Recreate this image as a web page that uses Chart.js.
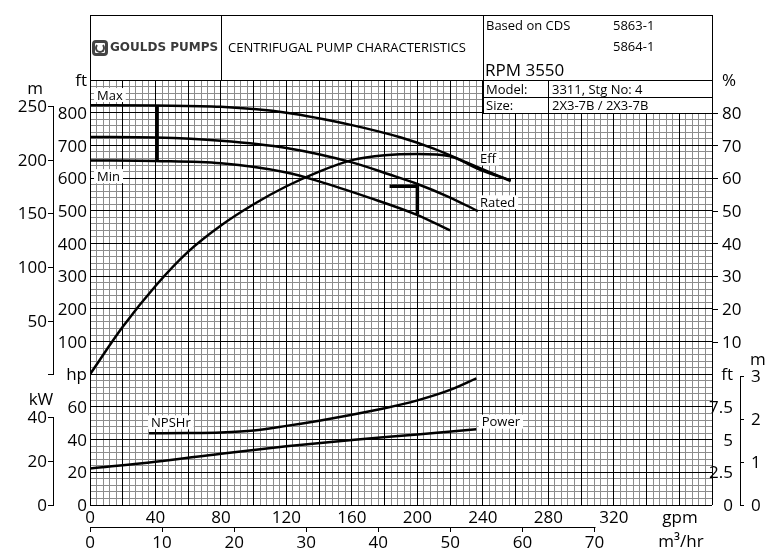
<!DOCTYPE html>
<html>
<head>
<meta charset="utf-8">
<script src="https://cdn.jsdelivr.net/npm/chart.js@4/dist/chart.umd.min.js"></script>
<style>
  html, body { margin: 0; padding: 0; background: #fff; }
  #wrap { position: relative; width: 776px; height: 557px; font-family: 'Open Sans', sans-serif; color: #000; overflow: hidden; }
  canvas { position: absolute; left: 0; top: 0; }
  .ln { position: absolute; background: #000; }
  .t { position: absolute; white-space: nowrap; line-height: 1; transform: translateY(-50%); }
  .box { position: absolute; box-sizing: border-box; background: #fff; border: 1px solid #000; }
  .logo { position: absolute; left: 92px; top: 40px; width: 16px; height: 16px; box-sizing: border-box; border: 3px solid #444; border-radius: 4px; filter: blur(0.4px); }
  .logo::after { content: ''; position: absolute; left: 0; top: 0; width: 6px; height: 6px; border: 2px solid #444; border-radius: 50%; border-top-color: transparent; }
</style>
</head>
<body>
<div id="wrap">
  <canvas id="pumpChart" width="776" height="557"></canvas>

  <!-- header frame -->
  <div class="ln" style="left:90px;top:15px;width:623px;height:1px"></div>
  <div class="ln" style="left:90px;top:15px;width:1px;height:65px"></div>
  <div class="ln" style="left:712px;top:15px;width:1px;height:65px"></div>
  <div class="ln" style="left:221px;top:15px;width:1px;height:65px"></div>
  <div class="ln" style="left:483px;top:15px;width:1px;height:65px"></div>

  <div class="logo"></div>
  <div class="t" style="left:110px;top:47px;font-family:'DejaVu Sans';font-weight:bold;font-size:12px;color:#3a3a3a;filter:blur(0.3px)">GOULDS PUMPS</div>
  <div class="t" style="left:228px;top:47px;font-size:13px">CENTRIFUGAL PUMP CHARACTERISTICS</div>

  <div class="t" style="left:486px;top:25px;font-size:13px">Based on CDS</div>
  <div class="t" style="left:613px;top:25px;font-size:13px">5863-1</div>
  <div class="t" style="left:613px;top:46px;font-size:13px">5864-1</div>
  <div class="t" style="left:485px;top:69px;font-size:17px">RPM 3550</div>

  <!-- model / size table -->
  <div class="box" style="left:483px;top:80px;width:230px;height:34px"></div>
  <div class="ln" style="left:483px;top:97px;width:230px;height:1px"></div>
  <div class="ln" style="left:548px;top:80px;width:1px;height:34px"></div>
  <div class="t" style="left:486px;top:89px;font-size:13px">Model:</div>
  <div class="t" style="left:552px;top:89px;font-size:13px">3311, Stg No: 4</div>
  <div class="t" style="left:486px;top:105px;font-size:13px">Size:</div>
  <div class="t" style="left:552px;top:105px;font-size:13px">2X3-7B / 2X3-7B</div>
</div>

<script>
const FT_PER_M = 3.2808;
const HP_PER_KW = 1.341;
const GPM_PER_M3H = 4.4029;

const gpmTicks = [0, 40, 80, 120, 160, 200, 240, 280, 320];
const m3hTicks = [0, 10, 20, 30, 40, 50, 60, 70];
const headFtTicks = [100, 200, 300, 400, 500, 600, 700, 800];
const headMTicks = [0, 50, 100, 150, 200, 250];
const effTicks = [10, 20, 30, 40, 50, 60, 70, 80];
const hpTicks = [0, 20, 40, 60];
const kwTicks = [0, 20, 40];
const npshFtTicks = [0, 2.5, 5, 7.5];
const npshMTicks = [0, 1, 2, 3];

// curves as [gpm, value]
const headMax = [[0, 823], [40, 822], [80, 818], [120, 800], [160, 762], [190, 724], [210, 690], [230, 648], [257, 591]];
const headRated = [[0, 726], [40, 724], [80, 714], [120, 692], [160, 648], [183, 611], [200, 582], [218, 545], [237, 499]];
const headMin = [[0, 654], [40, 652], [80, 645], [120, 617], [140, 590], [170, 541], [199, 489], [220, 440]];
const efficiency = [[0, 0], [20, 14.5], [40, 27], [60, 37.5], [80, 45.5], [100, 52], [120, 57.5], [140, 62], [160, 65.5], [180, 67], [200, 67.4], [220, 66.7], [238, 62.6], [257, 59.3]];
const npshr = [[36, 5.48], [60, 5.5], [80, 5.55], [100, 5.7], [120, 6.05], [140, 6.45], [160, 6.9], [180, 7.4], [200, 8.0], [220, 8.8], [236, 9.68]];
const power = [[0, 22.4], [40, 26.5], [80, 31.4], [120, 35.9], [160, 39.8], [200, 43.1], [236, 46.3]];
const diameterBar = [[41, 823], [41, 654]];
const ratedPoint = [[183, 575], [200, 575], [200, 489]];

const pts = arr => arr.map(p => ({ x: p[0], y: p[1] }));

function curve(arr, axis) {
    return {
        data: pts(arr), yAxisID: axis, borderColor: '#000', borderWidth: 2.5,
        pointRadius: 0, fill: false, cubicInterpolationMode: 'monotone'
    };
}
function marker(arr) {
    return {
        data: pts(arr), yAxisID: 'yFt', borderColor: '#000', borderWidth: 3.5,
        pointRadius: 0, fill: false, tension: 0, borderCapStyle: 'butt', borderJoinStyle: 'miter'
    };
}

const curveLabels = [
    { text: 'Max', axis: 'yFt', x: 4.3, y: 854 },
    { text: 'Min', axis: 'yFt', x: 4.3, y: 606 },
    { text: 'Eff', axis: 'yPct', x: 238.3, y: 66 },
    { text: 'Rated', axis: 'yFt', x: 238.3, y: 526 },
    { text: 'NPSHr', axis: 'yNpsh', x: 37.3, y: 6.32 },
    { text: 'Power', axis: 'yHp', x: 239.3, y: 51 }
];

function txt(ctx, str, px, py, align, size) {
    ctx.font = size + 'px "Open Sans"';
    ctx.textAlign = align;
    ctx.textBaseline = 'alphabetic';
    ctx.fillText(str, px, py + size * 0.36);
}
function hline(ctx, x1, x2, y) {
    ctx.beginPath(); ctx.moveTo(x1, Math.round(y) + 0.5); ctx.lineTo(x2, Math.round(y) + 0.5); ctx.stroke();
}
function vline(ctx, x, y1, y2) {
    ctx.beginPath(); ctx.moveTo(Math.round(x) + 0.5, y1); ctx.lineTo(Math.round(x) + 0.5, y2); ctx.stroke();
}

const axisText = {
    id: 'axisText',
    beforeDatasetsDraw(chart) {
        const ctx = chart.ctx;
        ctx.save();
        ctx.font = '13px "Open Sans"';
        curveLabels.forEach(l => {
            const px = chart.scales.x.getPixelForValue(l.x);
            const py = chart.scales[l.axis].getPixelForValue(l.y);
            const w = ctx.measureText(l.text).width;
            ctx.fillStyle = '#fff';
            ctx.fillRect(px - 3, py - 7, w + 6, 14);
            ctx.fillStyle = '#000';
            txt(ctx, l.text, px, py, 'left', 13);
        });
        ctx.restore();
    },
    afterDraw(chart) {
        const ctx = chart.ctx;
        const { x, yFt, yPct, yHp, yNpsh } = chart.scales;
        const area = chart.chartArea;
        ctx.save();
        ctx.fillStyle = '#000';
        ctx.strokeStyle = '#000';
        ctx.lineWidth = 1;

        // left: head ft and power hp
        headFtTicks.forEach(v => txt(ctx, String(v), 87, yFt.getPixelForValue(v), 'right', 17));
        txt(ctx, 'ft', 87, area.top, 'right', 17);
        hpTicks.forEach(v => txt(ctx, String(v), 87, yHp.getPixelForValue(v), 'right', 17));
        txt(ctx, 'hp', 87, yFt.getPixelForValue(0), 'right', 17);

        // left: head m axis
        const mTop = yFt.getPixelForValue(250 * FT_PER_M);
        vline(ctx, 53, mTop, yFt.getPixelForValue(0));
        headMTicks.forEach(v => {
            const py = yFt.getPixelForValue(v * FT_PER_M);
            hline(ctx, 48, 54, py);
            if (v > 0) txt(ctx, String(v), 47, py, 'right', 17);
        });
        txt(ctx, 'm', 35, 88, 'center', 17);

        // left: kW axis
        vline(ctx, 53, yHp.getPixelForValue(40 * HP_PER_KW), yHp.getPixelForValue(0));
        kwTicks.forEach(v => {
            const py = yHp.getPixelForValue(v * HP_PER_KW);
            hline(ctx, 48, 54, py);
            txt(ctx, String(v), 47, py, 'right', 17);
        });
        txt(ctx, 'kW', 41, 399, 'center', 17);

        // right: efficiency %
        effTicks.forEach(v => {
            const py = yPct.getPixelForValue(v);
            hline(ctx, area.right, area.right + 6, py);
            txt(ctx, String(v), 722, py, 'left', 17);
        });
        txt(ctx, '%', 722, area.top, 'left', 17);

        // right: NPSH ft and m
        npshFtTicks.forEach(v => txt(ctx, String(v), 733, yNpsh.getPixelForValue(v), 'right', 17));
        txt(ctx, 'ft', 733, yFt.getPixelForValue(0), 'right', 17);
        vline(ctx, 740, yNpsh.getPixelForValue(3 * FT_PER_M), yNpsh.getPixelForValue(0) + 1);
        npshMTicks.forEach(v => {
            const py = yNpsh.getPixelForValue(v * FT_PER_M);
            hline(ctx, 740, 744, py);
            txt(ctx, String(v), 751, py, 'left', 17);
        });
        txt(ctx, 'm', 750, 359, 'left', 17);

        // bottom: gpm
        gpmTicks.forEach(v => txt(ctx, String(v), x.getPixelForValue(v), 517, 'center', 17));
        txt(ctx, 'gpm', 680, 517, 'center', 17);

        // bottom: m3/hr axis
        const lineY = 527;
        hline(ctx, x.getPixelForValue(0), x.getPixelForValue(70 * GPM_PER_M3H) + 1, lineY);
        m3hTicks.forEach(v => {
            const px = x.getPixelForValue(v * GPM_PER_M3H);
            vline(ctx, px, lineY, lineY + 5);
            txt(ctx, String(v), px, 542, 'center', 17);
        });
        txt(ctx, 'm³/hr', 681, 541, 'center', 17);
        ctx.restore();
    }
};

const majorGrid = { drawTicks: false, color: '#000', lineWidth: 1, z: -1 };
const minorGrid = { drawTicks: false, color: '#8c8c8c', lineWidth: 1, z: -2 };

new Chart(document.getElementById('pumpChart'), {
    type: 'line',
    data: {
        datasets: [
            curve(headMax, 'yFt'),
            curve(headRated, 'yFt'),
            curve(headMin, 'yFt'),
            curve(efficiency, 'yPct'),
            curve(npshr, 'yNpsh'),
            curve(power, 'yHp'),
            marker(diameterBar),
            marker(ratedPoint)
        ]
    },
    options: {
        responsive: false,
        animation: false,
        events: [],
        layout: { padding: { left: 90, right: 64, top: 80, bottom: 52 } },
        plugins: { legend: { display: false }, tooltip: { enabled: false } },
        scales: {
            x: { type: 'linear', position: 'bottom', min: 0, max: 380, ticks: { display: false, stepSize: 20 }, grid: majorGrid, border: { display: false } },
            xg: { type: 'linear', position: 'bottom', min: 0, max: 380, ticks: { display: false, stepSize: 4 }, grid: minorGrid, border: { display: false } },
            yFt: { type: 'linear', position: 'left', min: -400, max: 900, ticks: { display: false, stepSize: 100 }, grid: majorGrid, border: { display: false } },
            yg: { type: 'linear', position: 'left', min: -400, max: 900, ticks: { display: false, stepSize: 20 }, grid: minorGrid, border: { display: false } },
            yPct: { type: 'linear', position: 'right', display: false, min: -40, max: 90 },
            yHp: { type: 'linear', position: 'right', display: false, min: 0, max: 260 },
            yNpsh: { type: 'linear', position: 'right', display: false, min: 0, max: 32.5 }
        }
    },
    plugins: [axisText]
});
</script>
</body>
</html>
